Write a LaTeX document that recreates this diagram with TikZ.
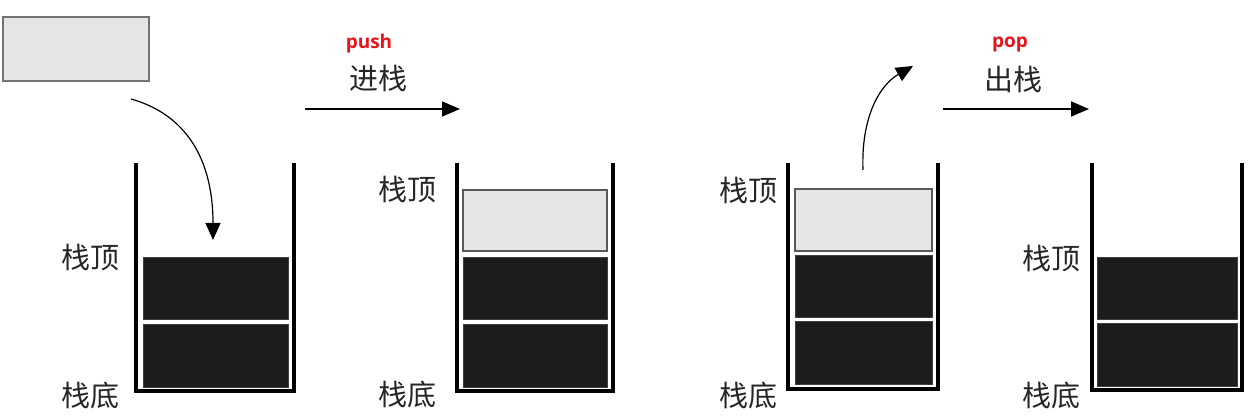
\documentclass[tikz,border=0pt]{standalone}
\usepackage{fontspec}
\newfontfamily\cjk{Noto Sans CJK SC}
\newfontfamily\lat{Open Sans}
\usetikzlibrary{arrows.meta}
\definecolor{blockdark}{HTML}{1C1C1C}
\definecolor{blocklight}{HTML}{E6E6E6}
\definecolor{opred}{HTML}{E8141B}
\begin{document}
\begin{tikzpicture}[x=1pt,y=-1pt,
  wall/.style={line width=4pt, black, line join=miter},
  darkblk/.style={fill=blockdark, draw=black!75, line width=0.6pt, inner sep=0, outer sep=0},
  lightblk/.style={fill=blocklight, draw=black!65, line width=1.2pt, inner sep=0, outer sep=0},
  newblk/.style={fill=black!10, draw=black!55, line width=2pt, inner sep=0, outer sep=0},
  lbl/.style={font=\cjk\fontsize{29}{30}\selectfont, text=black!85, inner sep=0},
  oplbl/.style={font=\lat\bfseries\fontsize{19}{20}\selectfont, text=opred, inner sep=0},
  flow/.style={line width=1.6pt, -{Triangle[length=18pt,width=15pt]}},
  curv/.style={line width=1.2pt, -{Triangle[length=17pt,width=15pt]}}]
\useasboundingbox (0,0) rectangle (1249,419);

% new element
\node[newblk, minimum width=146pt, minimum height=64pt] (newel) at (76,49) {};

% ---------- stack 1 ----------
\draw[wall] (136,163) -- (136,391) -- (294,391) -- (294,163);
\node[darkblk, minimum width=145pt, minimum height=62pt] (s1a) at (215.5,288) {};
\node[darkblk, minimum width=145pt, minimum height=63pt] (s1b) at (215.5,355.5) {};
\node[lbl] (s1top) at (90,258) {栈顶};
\node[lbl] (s1bot) at (90,395) {栈底};
\coordinate (c1s) at (131,99);
\coordinate (c1e) at (213,240);
\draw[curv] (c1s) .. controls (178,112) and (213,150) .. (c1e);

% push arrow
\coordinate (p1) at (305,109);
\coordinate (p2) at (460,109);
\draw[flow] (p1) -- (p2);
\node[oplbl] (push) at (369,44) {push};
\node[lbl] (jin) at (378,78) {进栈};

% ---------- stack 2 ----------
\draw[wall] (457,163) -- (457,391) -- (613,391) -- (613,163);
\node[lightblk, minimum width=144pt, minimum height=61pt] (s2c) at (535,220.5) {};
\node[darkblk, minimum width=144pt, minimum height=62pt] (s2a) at (535,288) {};
\node[darkblk, minimum width=144pt, minimum height=63pt] (s2b) at (535,355.5) {};
\node[lbl] (s2top) at (407,190) {栈顶};
\node[lbl] (s2bot) at (407,394) {栈底};

% ---------- stack 3 ----------
\draw[wall] (788,163) -- (788,389) -- (938,389) -- (938,163);
\node[lightblk, minimum width=137pt, minimum height=62pt] (s3c) at (863.5,220) {};
\node[darkblk, minimum width=137pt, minimum height=62pt] (s3a) at (863.5,286) {};
\node[darkblk, minimum width=137pt, minimum height=63pt] (s3b) at (863.5,353) {};
\node[lbl] (s3top) at (748,191) {栈顶};
\node[lbl] (s3bot) at (748,395) {栈底};
\coordinate (c2s) at (863,170);
\coordinate (c2e) at (913,66);
\draw[curv] (c2s) .. controls (861,120) and (878,86) .. (c2e);

% pop arrow
\coordinate (q1) at (943,109);
\coordinate (q2) at (1089,109);
\draw[flow] (q1) -- (q2);
\node[oplbl] (pop) at (1010,45) {pop};
\node[lbl] (chu) at (1013,79) {出栈};

% ---------- stack 4 ----------
\draw[wall] (1092,163) -- (1092,390) -- (1242,390) -- (1242,163);
\node[darkblk, minimum width=140pt, minimum height=62pt] (s4a) at (1167,288) {};
\node[darkblk, minimum width=140pt, minimum height=63pt] (s4b) at (1167,355) {};
\node[lbl] (s4top) at (1051,259) {栈顶};
\node[lbl] (s4bot) at (1051,395) {栈底};
\end{tikzpicture}
\end{document}
